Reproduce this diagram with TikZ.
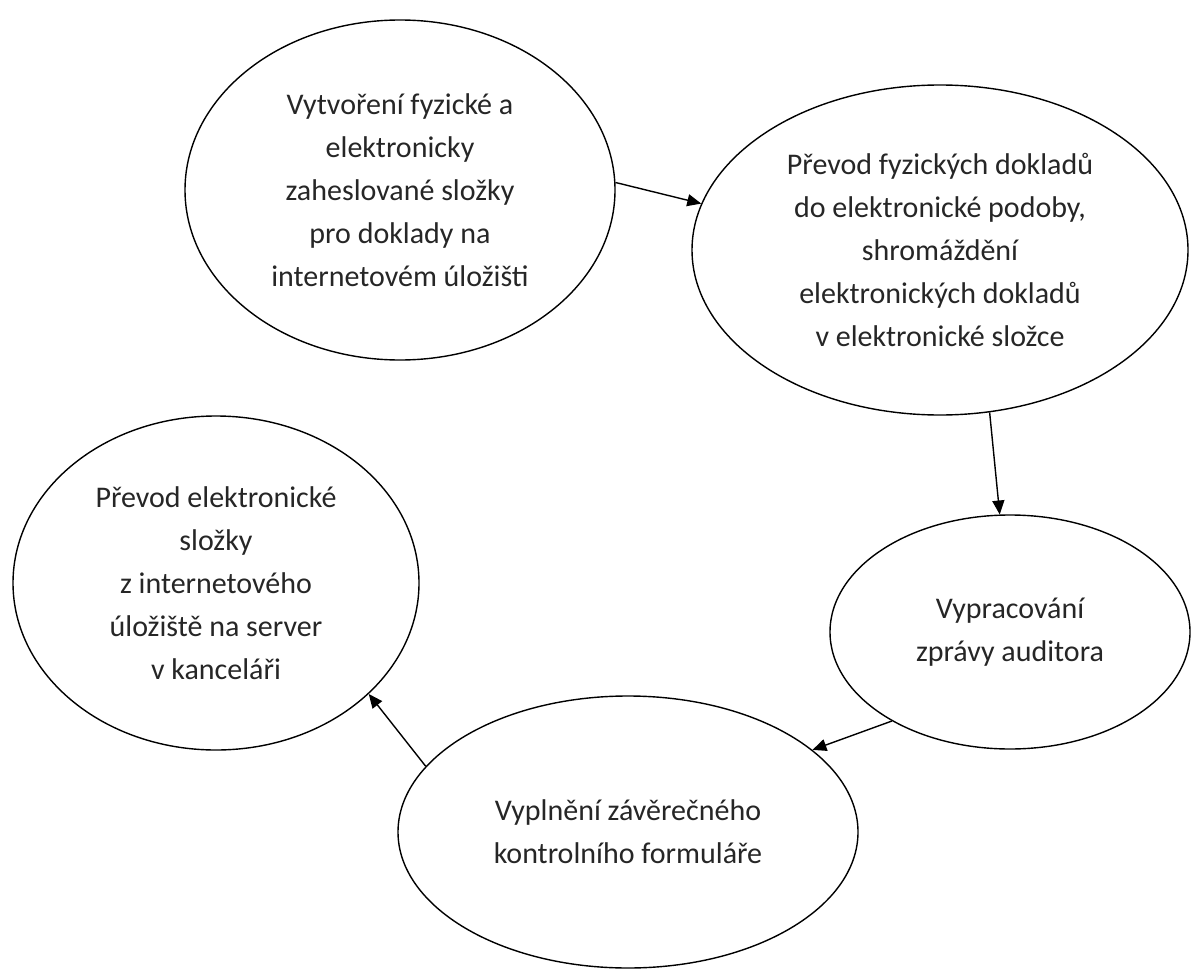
\documentclass[tikz,border=0pt]{standalone}
\usepackage{fontspec}
\setmainfont{Carlito}
\usetikzlibrary{shapes.geometric, arrows.meta}

\begin{document}
\begin{tikzpicture}[
    x=0.5pt, y=-0.5pt,
    font=\fontsize{15}{21.5}\selectfont,
    stage/.style={draw, ellipse, align=center, inner sep=0pt, line width=0.7pt, text=black!85},
    arr/.style={-{Triangle[length=7pt, width=6pt]}, line width=0.7pt},
]
\useasboundingbox (0,0) rectangle (1199,974);
\node[stage, minimum width=215pt, minimum height=170pt] (zalozeni) at (400,190) {Vytvoření fyzické a\\elektronicky\\zaheslované složky\\pro doklady na\\internetovém úložišti};
\node[stage, minimum width=248pt, minimum height=165pt] (prevod) at (940,250) {Převod fyzických dokladů\\do elektronické podoby,\\shromáždění\\elektronických dokladů\\v elektronické složce};
\node[stage, minimum width=180pt, minimum height=117pt] (zprava) at (1010,632) {Vypracování\\zprávy auditora};
\node[stage, minimum width=230pt, minimum height=136pt] (formular) at (628,832) {Vyplnění závěrečného\\kontrolního formuláře};
\node[stage, minimum width=203pt, minimum height=167pt] (server) at (216,583) {Převod elektronické\\složky\\z internetového\\úložiště na server\\v kanceláři};
\draw[arr] (zalozeni.2) -- (prevod.169);
\draw[arr] (prevod.-73) -- (zprava.95);
\draw[arr] (zprava.217) -- (formular.24);
\draw[arr] (formular.162) -- (server.-36);
\end{tikzpicture}
\end{document}
